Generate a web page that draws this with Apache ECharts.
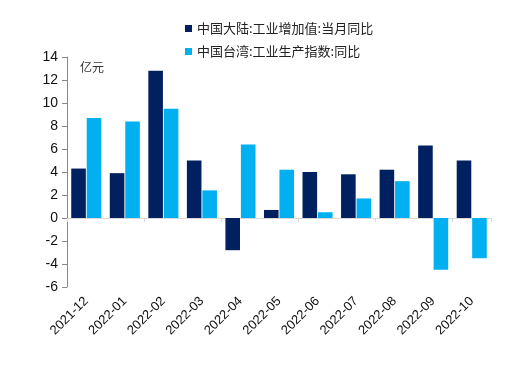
<!DOCTYPE html>
<html><head><meta charset="utf-8">
<script src="https://cdn.jsdelivr.net/npm/echarts@6/dist/echarts.min.js"></script>
<style>html,body{margin:0;padding:0;background:#fff}#c{width:518px;height:371px}</style>
</head><body><div id="c"></div>
<script>
const categories = ['2021-12','2022-01','2022-02','2022-03','2022-04','2022-05','2022-06','2022-07','2022-08','2022-09','2022-10'];
const mainland = [4.3, 3.9, 12.8, 5.0, -2.8, 0.7, 4.0, 3.8, 4.2, 6.3, 5.0];
const taiwan = [8.7, 8.4, 9.5, 2.4, 6.4, 4.2, 0.5, 1.7, 3.2, -4.5, -3.5];
const seriesNames = ['中国大陆:工业增加值:当月同比', '中国台湾:工业生产指数:同比'];
const unitLabel = '亿元';

const chart = echarts.init(document.getElementById('c'));
chart.setOption({
  animation: false,
  legend: {
    orient: 'vertical', left: 180, top: 17, itemWidth: 7, itemHeight: 7, itemGap: 10,
    icon: 'rect',
    textStyle: {fontFamily: 'Noto Sans CJK SC', fontSize: 13, color: '#222'},
    data: seriesNames
  },
  grid: {left: 67, right: 27, top: 57, bottom: 84},
  graphic: [{type: 'text', left: 80, top: 61, style: {text: unitLabel, font: '12px "Noto Sans CJK SC"', fill: '#333'}}],
  xAxis: [{
    type: 'category', data: categories, position: 'bottom',
    axisLine: {show: false, onZero: false}, axisTick: {show: false},
    axisLabel: {rotate: 45, fontFamily: 'Liberation Sans', fontSize: 13, color: '#111', margin: 12, interval: 0}
  }, {
    type: 'category', data: categories, position: 'bottom',
    axisLine: {show: true, onZero: true, lineStyle: {color: '#d9d9d9'}},
    axisTick: {show: true, length: 4, lineStyle: {color: '#d9d9d9'}},
    axisLabel: {show: false}
  }],
  yAxis: {
    type: 'value', min: -6, max: 14, interval: 2,
    splitLine: {show: false},
    axisLine: {show: true, lineStyle: {color: '#888'}},
    axisTick: {show: true, length: 5, lineStyle: {color: '#888'}},
    axisLabel: {fontFamily: 'Liberation Sans', fontSize: 14, color: '#111', margin: 9}
  },
  series: [
    {name: seriesNames[0], type: 'bar', data: mainland, itemStyle: {color: '#002060'}, barGap: '6%', barCategoryGap: '22%'},
    {name: seriesNames[1], type: 'bar', data: taiwan, itemStyle: {color: '#00B0F0'}}
  ]
});
</script></body></html>
